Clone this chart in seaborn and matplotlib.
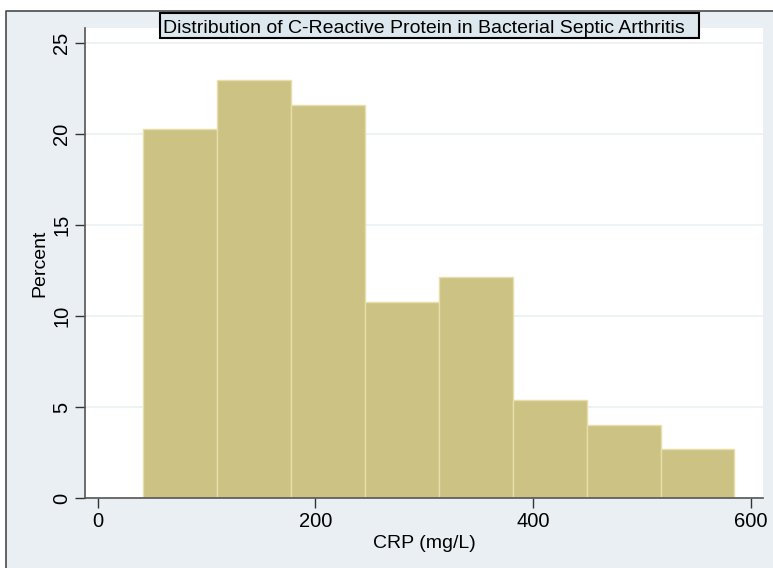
import matplotlib
matplotlib.use("Agg")
import matplotlib.pyplot as plt
from matplotlib.patches import Rectangle
from matplotlib.lines import Line2D
import seaborn as sns
import numpy as np

# ---- data ----
bin_edges = [41.9, 109.8, 177.6, 245.5, 313.3, 381.2, 449.0, 516.9, 584.7]
percents = [20.27, 22.97, 21.62, 10.81, 12.16, 5.41, 4.05, 2.70]
x_ticks = [0, 200, 400, 600]
y_ticks = [0, 5, 10, 15, 20, 25]
title = "Distribution of C-Reactive Protein in Bacterial Septic Arthritis"
x_label = "CRP (mg/L)"
y_label = "Percent"

sns.set_theme(style="white")
plt.rcParams['font.family'] = ['Liberation Sans', 'DejaVu Sans']

W, H = 773, 568
fig = plt.figure(figsize=(W / 100, H / 100), dpi=100)
fig.patch.set_facecolor("white")

def px(x0, y0, x1, y1):
    """pixel box (top-left origin) -> figure fraction rect"""
    return (x0 / W, 1 - y1 / H, (x1 - x0) / W, (y1 - y0) / H)

# graph region (bluish gray) with dark border on left/top only
r = px(6, 11, W + 5, H + 5)
bg = Rectangle(r[:2], r[2], r[3], transform=fig.transFigure,
               facecolor="#E9EFF2", edgecolor="none", zorder=-10)
fig.patches.append(bg)
fig.lines.append(Line2D([6 / W, 6 / W, 1.01], [-0.01, 1 - 11 / H, 1 - 11 / H],
                        transform=fig.transFigure, color="#4a4a4a", linewidth=1.2,
                        zorder=-9))

ax = fig.add_axes(px(85, 28.3, 763.3, 498.3))
ax.set_zorder(1)
ax.set_facecolor("white")

centers = [(bin_edges[i] + bin_edges[i + 1]) / 2 for i in range(len(percents))]
sns.histplot(x=centers, weights=percents, bins=bin_edges, stat="count",
             color="#CBC283", edgecolor="#E6DFAA", linewidth=1.0, alpha=1.0, ax=ax)

ax.set_xlim(-11.7, 611.3)
ax.set_ylim(0, 25.82)
ax.set_xticks(x_ticks)
ax.set_yticks(y_ticks)
ax.set_yticklabels([str(v) for v in y_ticks], rotation=90, va="center")
ax.yaxis.grid(True, color="#EAF0F3", linewidth=1.2)
ax.set_axisbelow(True)

for s in ["top", "right"]:
    ax.spines[s].set_visible(False)
for s in ["left", "bottom"]:
    ax.spines[s].set_color("#555555")
    ax.spines[s].set_linewidth(1.2)

ax.tick_params(axis="both", which="major", length=7, width=1.0, color="#333333",
               labelsize=14.5, labelcolor="black", pad=3, direction="out",
               left=True, bottom=True)
ax.set_xlabel(x_label, fontsize=14, color="black", labelpad=3)
ax.set_ylabel(y_label, fontsize=14, color="black", labelpad=3)

# title box
tr = px(160, 13, 699, 38)
tb = Rectangle(tr[:2], tr[2], tr[3], transform=fig.transFigure,
               facecolor="#DCE8EE", edgecolor="black", linewidth=1.5, zorder=20)
fig.patches.append(tb)
fig.text(162.7 / W, 1 - 33.3 / H, title, ha="left", va="baseline", fontsize=14,
         color="black", zorder=21)

fig.savefig("out.png", dpi=100)
